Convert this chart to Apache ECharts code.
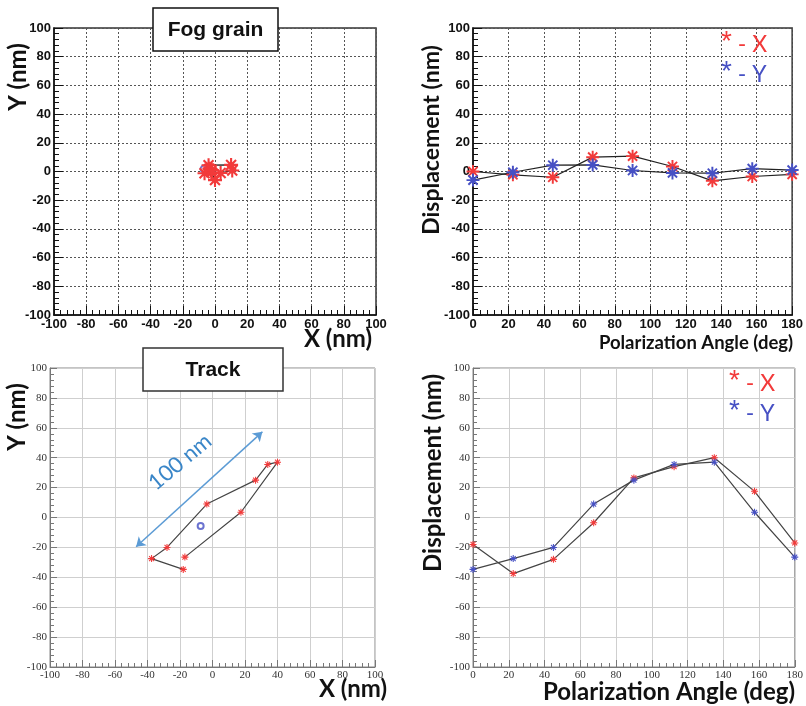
<!DOCTYPE html>
<html>
<head>
<meta charset="utf-8">
<script src="https://cdn.jsdelivr.net/npm/echarts@6/dist/echarts.min.js"></script>
<style>
html, body { margin: 0; padding: 0; background: #fff; }
#main { width: 806px; height: 706px; }
</style>
</head>
<body>
<div id="main"></div>
<script>
// polarization angles (deg)
const angles = [0, 22.5, 45, 67.5, 90, 112.5, 135, 157.5, 180];
// fog grain displacement
const fogX = [0, -2.3, -4, 10, 10.7, 3.5, -6.5, -3.5, -2];
const fogY = [-6, -0.5, 4.4, 4.6, 0.7, -1, -1.2, 2, 1];
const fogCenter = [-6.8, 1.7];
// track displacement
const trackX = [-18, -37.5, -28, -3.5, 26.5, 34, 40, 17.5, -17];
const trackY = [-34.7, -27.5, -20, 9, 25, 35.5, 37, 3.5, -26.5];
const trackCenter = [-7.3, -5.7];
const arrowEnds = [[-47, -19.6], [30.7, 57.3]];

const RED = "#f23a3a";
const BLUE = "#4650c4";
// asterisk marker
const STAR = "path://M20 11.5L20 8.5L0 8.5L0 11.5ZM8.5 20L11.5 20L11.5 0L8.5 0ZM16.01 18.13L18.13 16.01L3.99 1.87L1.87 3.99ZM1.87 16.01L3.99 18.13L18.13 3.99L16.01 1.87Z";

const zip = (a, b) => a.map((v, i) => [v, b[i]]);

function makeAxis(gridIndex, min, max, soft) {
  return {
    type: "value",
    gridIndex: gridIndex,
    min: min,
    max: max,
    interval: 20,
    axisLine: { onZero: false, lineStyle: { color: soft ? "#777" : "#111", width: soft ? 1 : 1.5 } },
    axisTick: { inside: true, length: soft ? 7 : 9, lineStyle: { color: soft ? "#777" : "#111" } },
    minorTick: { show: true, splitNumber: 5, length: soft ? 4 : 5, lineStyle: { color: soft ? "#777" : "#111" } },
    axisLabel: soft
      ? { margin: 3, color: "#333", fontSize: 11, fontFamily: "Liberation Sans Narrow" }
      : { margin: 3, color: "#111", fontSize: 13, fontWeight: "bold", fontFamily: "Liberation Sans" },
    splitLine: {
      show: true,
      lineStyle: soft ? { color: "#cfcfcf", width: 1, type: "solid" } : { color: "#555", width: 1, type: [2, 2] }
    }
  };
}

const chart = echarts.init(document.getElementById("main"));

const boldText = (text, x, y, size, rot, font) => ({
  type: "text", x: x, y: y, rotation: rot || 0, z: 100,
  style: { text: text, fontSize: size, fontWeight: "bold", fontFamily: font || "Lato", fill: "#111", align: "center", verticalAlign: "middle" }
});
// legend entry: big asterisk + " - X"
const legendText = (name, color, x, y) => ({
  type: "text", x: x, y: y, z: 100,
  style: {
    text: "{s|*}{t| - " + name + "}",
    fill: color, align: "left", verticalAlign: "middle",
    rich: {
      s: { fontSize: 28, fontFamily: "Liberation Sans", fill: color, verticalAlign: "top", padding: [0, 0, 6, 0] },
      t: { fontSize: 23, fontFamily: "Lato", fill: color }
    }
  }
});

const option = {
  animation: false,
  backgroundColor: "#fff",
  grid: [
    { left: 54, top: 28, width: 322, height: 287, show: true, borderColor: "#333", borderWidth: 1.5 },
    { left: 473, top: 28, width: 322, height: 287, show: true, borderColor: "#333", borderWidth: 1.5 },
    { left: 50, top: 368, width: 325, height: 299, show: true, borderColor: "#888", borderWidth: 1 },
    { left: 473, top: 368, width: 327, height: 299, show: true, borderColor: "#888", borderWidth: 1 }
  ],
  xAxis: [
    makeAxis(0, -100, 100, false),
    makeAxis(1, 0, 180, false),
    makeAxis(2, -100, 100, true),
    makeAxis(3, 0, 180, true)
  ],
  yAxis: [
    makeAxis(0, -100, 100, false),
    makeAxis(1, -100, 100, false),
    makeAxis(2, -100, 100, true),
    makeAxis(3, -100, 100, true)
  ],
  series: [
    {
      type: "line", xAxisIndex: 0, yAxisIndex: 0, data: zip(fogX, fogY),
      symbol: STAR, symbolSize: 14, itemStyle: { color: RED },
      lineStyle: { color: "#222", width: 1.2 }
    },
    {
      type: "scatter", xAxisIndex: 0, yAxisIndex: 0, data: [fogCenter],
      symbol: "emptyCircle", symbolSize: 7, itemStyle: { color: BLUE, borderColor: BLUE, borderWidth: 1.5 }
    },
    {
      type: "line", xAxisIndex: 1, yAxisIndex: 1, data: zip(angles, fogX),
      symbol: STAR, symbolSize: 13, itemStyle: { color: RED },
      lineStyle: { color: "#222", width: 1.2 }
    },
    {
      type: "line", xAxisIndex: 1, yAxisIndex: 1, data: zip(angles, fogY),
      symbol: STAR, symbolSize: 13, itemStyle: { color: BLUE },
      lineStyle: { color: "#222", width: 1.2 }
    },
    {
      type: "line", xAxisIndex: 2, yAxisIndex: 2, data: zip(trackX, trackY),
      symbol: STAR, symbolSize: 7, itemStyle: { color: RED },
      lineStyle: { color: "#444", width: 1.2 },
      markLine: {
        silent: true,
        symbol: ["arrow", "arrow"],
        symbolSize: 9,
        label: { show: false },
        lineStyle: { color: "#5b9bd5", width: 1.5, type: "solid" },
        data: [[{ coord: arrowEnds[0] }, { coord: arrowEnds[1] }]]
      }
    },
    {
      type: "scatter", xAxisIndex: 2, yAxisIndex: 2, data: [trackCenter],
      symbol: "emptyCircle", symbolSize: 6, itemStyle: { color: BLUE, borderColor: BLUE, borderWidth: 1.2 }
    },
    {
      type: "line", xAxisIndex: 3, yAxisIndex: 3, data: zip(angles, trackX),
      symbol: STAR, symbolSize: 7, itemStyle: { color: RED },
      lineStyle: { color: "#444", width: 1.2 }
    },
    {
      type: "line", xAxisIndex: 3, yAxisIndex: 3, data: zip(angles, trackY),
      symbol: STAR, symbolSize: 7, itemStyle: { color: BLUE },
      lineStyle: { color: "#444", width: 1.2 }
    }
  ],
  graphic: [
    // panel title boxes
    { type: "rect", shape: { x: 153, y: 8, width: 125, height: 43 }, z: 99,
      style: { fill: "#fff", stroke: "#111", lineWidth: 1.5 } },
    boldText("Fog grain", 215.5, 30, 21, 0, "Liberation Sans"),
    { type: "rect", shape: { x: 143, y: 348, width: 140, height: 43 }, z: 99,
      style: { fill: "#fff", stroke: "#333", lineWidth: 1.5 } },
    boldText("Track", 213, 370, 21, 0, "Liberation Sans"),
    // axis names
    boldText("Y (nm)", 18, 77, 24, Math.PI / 2),
    boldText("X (nm)", 338, 339, 24),
    boldText("Displacement (nm)", 432, 140, 23, Math.PI / 2),
    boldText("Polarization Angle (deg)", 696, 343, 18.5),
    boldText("Y (nm)", 17, 417, 24, Math.PI / 2),
    boldText("X (nm)", 353, 689, 24),
    boldText("Displacement (nm)", 433, 473, 24, Math.PI / 2),
    boldText("Polarization Angle (deg)", 669, 692, 24),
    // legends
    legendText("X", RED, 721, 45),
    legendText("Y", BLUE, 721, 75),
    legendText("X", RED, 729, 384),
    legendText("Y", BLUE, 729, 414),
    // scale annotation
    {
      type: "text", x: 180, y: 462, rotation: 40 * Math.PI / 180, z: 100,
      style: { text: "100 nm", fontSize: 22, fontFamily: "Lato", fill: "#3a86c8", align: "center", verticalAlign: "middle" }
    }
  ]
};

chart.setOption(option);
</script>
</body>
</html>
